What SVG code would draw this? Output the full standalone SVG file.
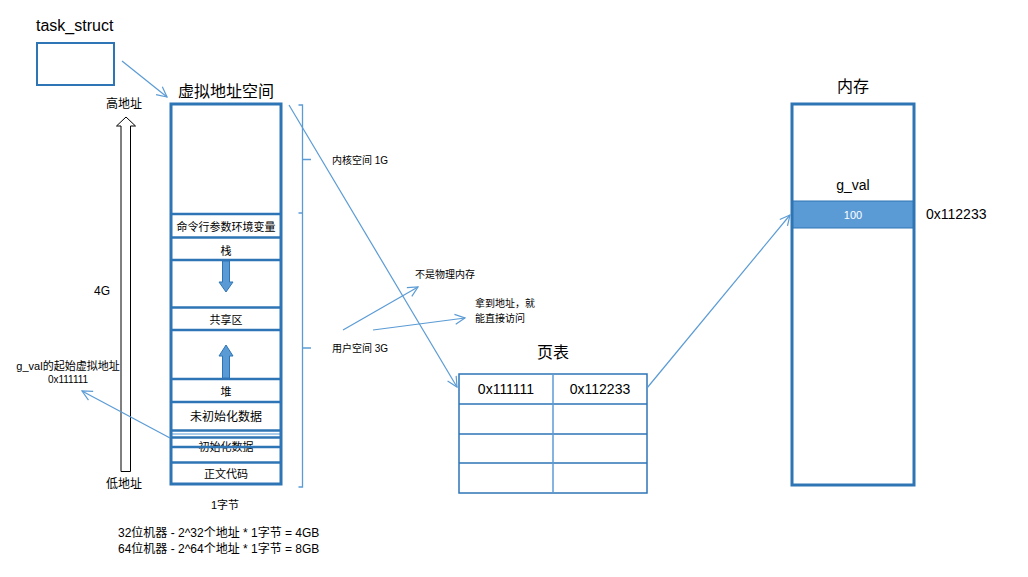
<svg xmlns="http://www.w3.org/2000/svg" width="1028" height="577" viewBox="0 0 1028 577">
<defs>
<style>
text{font-family:"Liberation Sans","Noto Sans CJK SC",sans-serif;fill:#000}
.t16{font-size:16px}
.t14{font-size:14px}
.t12{font-size:12px}
.t11{font-size:11px}
.t10{font-size:10px}
.box{fill:#fff;stroke:#2E75B6;stroke-width:2}
.thick{fill:none;stroke:#2E75B6;stroke-width:3}
.sep{stroke:#2E75B6;stroke-width:2.5}
.con{fill:none;stroke:#5B9BD5;stroke-width:1.2}
.br{fill:none;stroke:#5B9BD5;stroke-width:1.3}
.mid{text-anchor:middle}
</style>
<marker id="ah" viewBox="0 0 12 12" refX="11" refY="6" markerWidth="12" markerHeight="12" markerUnits="userSpaceOnUse" orient="auto">
<path d="M1,1 L11,6 L1,11" fill="none" stroke="#5B9BD5" stroke-width="1.2"/>
</marker>
</defs>

<g id="task_struct">
<text class="t16" x="36" y="31">task_struct</text>
<rect class="box" x="37" y="43" width="77" height="42" stroke-width="1.5"/>
</g>

<g id="address_axis">
<path d="M121,471.5 L121,126 L116.5,126 L126,117 L135.5,126 L130.5,126 L130.5,471.5 Z" fill="#fff" stroke="#000" stroke-width="1"/>
<text class="t12 mid" x="124" y="108">高地址</text>
<text class="t12 mid" x="124" y="488">低地址</text>
<text class="t12 mid" x="102" y="295">4G</text>
<text class="t11 mid" x="68" y="370">g_val的起始虚拟地址</text>
<text class="t10 mid" x="68" y="383">0x111111</text>
</g>

<g id="virtual_space">
<text class="t16 mid" x="226" y="97">虚拟地址空间</text>
<rect x="171" y="104" width="110" height="380" fill="#fff"/>
<line class="sep" x1="171" y1="214" x2="281" y2="214"/>
<line class="sep" x1="171" y1="237.5" x2="281" y2="237.5"/>
<line class="sep" x1="171" y1="260" x2="281" y2="260"/>
<line class="sep" x1="171" y1="307.5" x2="281" y2="307.5"/>
<line class="sep" x1="171" y1="330" x2="281" y2="330"/>
<line class="sep" x1="171" y1="379" x2="281" y2="379"/>
<line class="sep" x1="171" y1="402" x2="281" y2="402"/>
<line class="sep" x1="171" y1="430.5" x2="281" y2="430.5"/>
<line x1="171" y1="434" x2="281" y2="434" stroke="#5B9BD5" stroke-width="1"/>
<line class="sep" x1="171" y1="437.5" x2="281" y2="437.5"/>
<line class="sep" x1="171" y1="462.5" x2="281" y2="462.5"/>
<text class="t11 mid" x="226" y="231">命令行参数环境变量</text>
<text class="t11 mid" x="226" y="255">栈</text>
<text class="t11 mid" x="226" y="324">共享区</text>
<text class="t11 mid" x="226" y="396">堆</text>
<text class="t12 mid" x="226" y="421">未初始化数据</text>
<text class="t11 mid" x="226" y="451">初始化数据</text>
<line class="sep" x1="171" y1="447" x2="281" y2="447"/>
<text class="t11 mid" x="226" y="478">正文代码</text>
<rect class="thick" x="171" y="104" width="110" height="380"/>
<path d="M222.5,261 L229.5,261 L229.5,282 L233,282 L226,292 L219,282 L222.5,282 Z" fill="#5B9BD5" stroke="#2E75B6" stroke-width="1"/>
<path d="M222.5,378 L229.5,378 L229.5,356 L233,356 L226,345 L219,356 L222.5,356 Z" fill="#5B9BD5" stroke="#2E75B6" stroke-width="1"/>
<text class="t11 mid" x="225" y="509">1字节</text>
<text class="t12" x="118" y="537">32位机器 - 2^32个地址 * 1字节 = 4GB</text>
<text class="t12" x="118" y="553">64位机器 - 2^64个地址 * 1字节 = 8GB</text>
</g>

<g id="bracket">
<path class="br" d="M298.5,105 L302.5,105 L302.5,487 L298.5,487 M302.5,159.5 L311,159.5 M298.5,213 L302.5,213 M302.5,348 L311,348"/>
<text class="t10" x="332" y="164">内核空间 1G</text>
<text class="t10" x="332" y="352">用户空间 3G</text>
</g>

<g id="notes">
<text class="t10" x="415" y="278">不是物理内存</text>
<text class="t10" x="475" y="307">拿到地址，就</text>
<text class="t10" x="475" y="322">能直接访问</text>
</g>

<g id="page_table">
<text class="t16 mid" x="553" y="358">页表</text>
<rect x="459" y="374" width="188" height="119" fill="#fff" stroke="#2E75B6" stroke-width="1.5"/>
<path d="M459,404 H647 M459,434 H647 M459,463 H647" stroke="#2E75B6" stroke-width="1.5"/>
<line x1="553" y1="374" x2="553" y2="493" stroke="#5B9BD5" stroke-width="1.5"/>
<text class="t14 mid" x="506" y="394">0x111111</text>
<text class="t14 mid" x="600" y="394">0x112233</text>
</g>

<g id="memory">
<text class="t16 mid" x="853" y="92">内存</text>
<rect x="792" y="104" width="122" height="381" fill="#fff"/>
<rect x="792" y="201" width="122" height="27" fill="#5B9BD5" stroke="#2E75B6" stroke-width="1"/>
<rect class="thick" x="792" y="104" width="122" height="381"/>
<text class="t14 mid" x="853" y="190">g_val</text>
<text class="t11 mid" x="853" y="219" style="fill:#fff">100</text>
<text class="t14" x="926" y="219">0x112233</text>
</g>

<g id="connectors">
<line class="con" x1="122" y1="61" x2="167" y2="97" marker-end="url(#ah)"/>
<line class="con" x1="170" y1="438" x2="82" y2="391" marker-end="url(#ah)"/>
<line class="con" x1="289" y1="105" x2="457" y2="387" marker-end="url(#ah)"/>
<line class="con" x1="343" y1="330" x2="418" y2="287" marker-end="url(#ah)"/>
<line class="con" x1="373" y1="330" x2="465" y2="318" marker-end="url(#ah)"/>
<line class="con" x1="647" y1="388" x2="790" y2="215" marker-end="url(#ah)"/>
</g>
</svg>
